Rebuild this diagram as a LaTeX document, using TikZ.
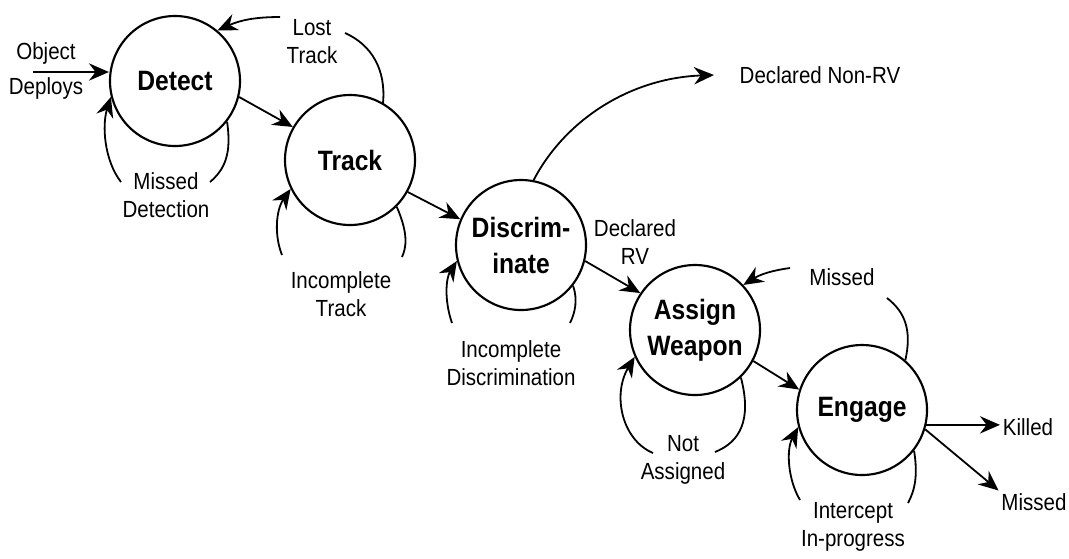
\documentclass[tikz,border=0pt]{standalone}
\usepackage{fontspec}
\setmainfont[FakeStretch=0.88]{Liberation Sans}
\usetikzlibrary{arrows.meta}
\begin{document}
\begin{tikzpicture}[x=0.75pt,y=-0.75pt,
  state/.style={draw,circle,line width=1.6pt,minimum size=97.5pt,inner sep=0pt,align=center,font=\fontsize{21}{27}\selectfont\bfseries},
  lbl/.style={align=center,inner sep=2pt,font=\fontsize{17.5}{21}\selectfont},
  link/.style={line width=1.35pt},
  arr/.style={link,-{Stealth[length=15pt,width=13pt,inset=5pt]}}]
\useasboundingbox (0,0) rectangle (1069,558);

% states
\node[state] (detect) at (175,81) {Detect};
\node[state] (track)  at (350,160) {Track};
\node[state] (discr)  at (521,245) {Discrim-\\inate};
\node[state] (assign) at (695,330) {Assign\\Weapon};
\node[state] (engage) at (862,410) {Engage};

% labels
\node[lbl] (objdep) at (46,71) {Object\\[5pt]Deploys};
\node[lbl] (losttrack) at (312,42) {Lost\\Track};
\node[lbl] (misseddet) at (166,195) {Missed\\Detection};
\node[lbl] (inctrack) at (341,294) {Incomplete\\Track};
\node[lbl] (incdisc) at (511,363) {Incomplete\\Discrimination};
\node[lbl] (declrv) at (635,242) {Declared\\RV};
\node[lbl] (nonrv) at (820,75) {Declared Non-RV};
\node[lbl] (missedeng) at (842,277) {Missed};
\node[lbl] (notassigned) at (683,460) {Not\\Assigned};
\node[lbl] (intercept) at (853,527) {Intercept\\In-progress};
\node[lbl] (killed) at (1028,427) {Killed};
\node[lbl] (missedout) at (1034,502) {Missed};

% free ends
\coordinate (od) at (33,72);
\coordinate (nrvend) at (714,75);
\coordinate (ltA) at (345,33);
\coordinate (ltB) at (280,17);
\coordinate (mdA) at (210,182);
\coordinate (mdB) at (121,182);
\coordinate (itA) at (402,257);
\coordinate (itB) at (282,255);
\coordinate (idA) at (570,323);
\coordinate (idB) at (452,323);
\coordinate (naA) at (715,452);
\coordinate (naB) at (653,453);
\coordinate (ipA) at (908,503);
\coordinate (ipB) at (800,500);
\coordinate (meA) at (887,298);
\coordinate (meB) at (790,268);

% main flow
\draw[arr] (od) -- (od -| detect.west);
\draw[arr] (detect.-14) -- (track.150);
\draw[arr] (track.-29) -- (discr.157);
\draw[arr] (discr.-14) -- (assign.146);
\draw[arr] (assign.-28) -- (engage.162);
\draw[arr] (engage.-13) -- (engage.-13 -| killed.west);
\draw[arr] (engage.-17) -- (missedout.north west);
\draw[arr] (discr.79) .. controls (565,120) and (630,78) .. (nrvend);

% Lost Track (Track -> Detect)
\draw[link] (track.60) .. controls (386,70) and (372,45) .. (ltA);
\draw[arr] (ltB) to[bend right=12] (detect.50);

% Missed Detection (Detect self loop)
\draw[link] (detect.-38) .. controls (232,155) and (224,170) .. (mdA);
\draw[arr] (mdB) .. controls (104,160) and (102,125) .. (detect.194);

% Incomplete Track
\draw[link] (track.-45) .. controls (409,235) and (406,248) .. (itA);
\draw[arr] (itB) .. controls (274,235) and (276,210) .. (track.206);

% Incomplete Discrimination
\draw[link] (discr.-38) .. controls (578,300) and (575,313) .. (idA);
\draw[arr] (idB) .. controls (444,300) and (446,278) .. (discr.194);

% Not Assigned
\draw[link] (assign.-46) .. controls (752,420) and (740,442) .. (naA);
\draw[arr] (naB) .. controls (622,440) and (612,395) .. (assign.204);

% Intercept In-progress
\draw[link] (engage.-38) .. controls (918,475) and (915,490) .. (ipA);
\draw[arr] (ipB) .. controls (788,480) and (786,450) .. (engage.195);

% Missed (Engage -> Assign Weapon)
\draw[link] (engage.49) .. controls (912,330) and (905,312) .. (meA);
\draw[arr] (meB) to[bend right=12] (assign.43);
\end{tikzpicture}
\end{document}
